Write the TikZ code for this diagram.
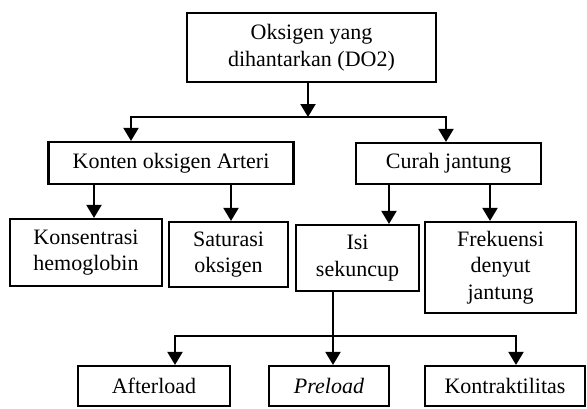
\documentclass[tikz,border=0pt]{standalone}
\usepackage{fontspec}
\setmainfont{Liberation Serif}
\usetikzlibrary{arrows.meta}
\begin{document}
\begin{tikzpicture}
        [x=1pt,y=-1pt,
         box/.style={draw,line width=2.2pt,align=center,inner sep=0pt,
           font=\fontsize{22}{26.5}\selectfont},
         arr/.style={line width=2.2pt,-{Triangle[length=13pt,width=15pt]}}]
        \useasboundingbox (0,0) rectangle (587,408);

        % boxes
        \node[box,minimum width=249pt,minimum height=69pt] (dot) at (311.5,47.5) {Oksigen yang\\dihantarkan (DO2)};
        \node[box,minimum width=245pt,minimum height=42pt] (konten) at (171,163) {Konten oksigen Arteri};
        \node[box,minimum width=185pt,minimum height=41pt] (curah) at (448.5,163.5) {Curah jantung};
        \node[box,minimum width=152pt,minimum height=67pt] (konsen) at (86,252.5) {Konsentrasi\\hemoglobin};
        \node[box,minimum width=119pt,minimum height=65pt] (satur) at (228.5,254.5) {Saturasi\\oksigen};
        \node[box,minimum width=123pt,minimum height=66pt] (isi) at (357.5,258) {Isi\\sekuncup};
        \node[box,minimum width=151pt,minimum height=91pt] (frek) at (500.5,267.5) {Frekuensi\\denyut\\jantung};
        \node[box,minimum width=152pt,minimum height=40pt] (after) at (154,386) {Afterload};
        \node[box,minimum width=120pt,minimum height=40pt] (pre) at (329,386) {\textit{Preload}};
        \node[box,minimum width=160pt,minimum height=40pt] (kontrak) at (505,386) {Kontraktilitas};

        % branch points
        \coordinate (busA) at (308,117);
        \coordinate (busB) at (333,336);
        \coordinate (xk) at (131,0);
        \coordinate (xc) at (446,0);
        \coordinate (xh) at (94,0);
        \coordinate (xs) at (231,0);
        \coordinate (xi) at (389,0);
        \coordinate (xf) at (490,0);
        \coordinate (xa) at (175,0);
        \coordinate (xt) at (516,0);

        \draw[arr] (dot.south -| busA) -- (busA);
        \draw[arr] (busA) -| (konten.north -| xk);
        \draw[arr] (busA) -| (curah.north -| xc);

        \draw[arr] (konten.south -| xh) -- (konsen.north -| xh);
        \draw[arr] (konten.south -| xs) -- (satur.north -| xs);
        \draw[arr] (curah.south -| xi) -- (isi.north -| xi);
        \draw[arr] (curah.south -| xf) -- (frek.north -| xf);

        \draw[arr] (isi.south -| busB) -- (pre.north -| busB);
        \draw[arr] (busB) -| (after.north -| xa);
        \draw[arr] (busB) -| (kontrak.north -| xt);
      \end{tikzpicture}
\end{document}
